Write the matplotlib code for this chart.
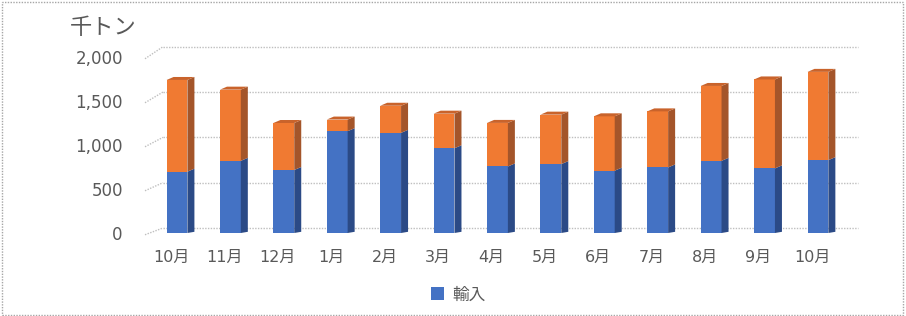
import numpy as np
import matplotlib.pyplot as plt
from matplotlib.patches import Polygon, Rectangle
from matplotlib.transforms import ScaledTranslation

plt.rcParams['font.family'] = ['DejaVu Sans', 'Noto Sans CJK JP']

# data (千トン)
months = ['10月', '11月', '12月', '1月', '2月', '3月', '4月', '5月', '6月', '7月', '8月', '9月', '10月']
imports = [697, 820, 716, 1157, 1138, 963, 756, 783, 708, 745, 820, 734, 828]
totals = [1739, 1629, 1250, 1289, 1446, 1356, 1251, 1345, 1326, 1382, 1671, 1745, 1831]
others = [t - b for t, b in zip(totals, imports)]
yticks = [0, 500, 1000, 1500, 2000]

W, H = 906, 316
fig = plt.figure(figsize=(W / 100, H / 100), dpi=100)
ax = fig.add_axes([145 / W, 1 - 233 / H, (858 - 145) / W, 176 / H])

x = np.arange(len(months))
x0, x1 = -0.599, 12.75
ax.set_xlim(x0, x1)
ax.set_ylim(0, 2000)
for s in ax.spines.values():
    s.set_visible(False)

grid_c = '#BFBFBF'
# back wall gridlines + diagonal connectors
xb = x0 + 18 / 53.4
for v in yticks:
    yb = 57 + 1.03 * v
    ax.plot([xb, x1], [yb, yb], color=grid_c, lw=1, ls=(0, (1, 1)), zorder=1, clip_on=False)
    ax.plot([x0, xb], [v - 20, yb], color=grid_c, lw=1, ls=(0, (1, 1)), zorder=1, clip_on=False)

w = 0.39
dx = 7 / 53.4
dy = 34
blue, blue_side = '#4472C4', '#2B4A86'
orange, orange_side, orange_top = '#F07A32', '#A4552A', '#C9632B'

ax.bar(x, imports, width=w, color=blue, zorder=3, label='輸入')
ax.bar(x, others, width=w, bottom=imports, color=orange, zorder=3)

# fake 3d: side and top faces
for i in x:
    r = i + w / 2
    b, t = imports[i], totals[i]
    ax.add_patch(Polygon([(r, 0), (r + dx, dy * 0.4), (r + dx, b + dy), (r, b)],
                         closed=True, color=blue_side, zorder=3, lw=0))
    ax.add_patch(Polygon([(r, b), (r + dx, b + dy), (r + dx, t + dy), (r, t)],
                         closed=True, color=orange_side, zorder=3, lw=0))
    ax.add_patch(Polygon([(i - w / 2, t), (r, t), (r + dx, t + dy), (i - w / 2 + dx, t + dy)],
                         closed=True, color=orange_top, zorder=3, lw=0))

ax.set_yticks(yticks)
ax.set_yticklabels([f'{v:,}' for v in yticks], fontsize=12, color='#595959')
ax.set_xticks(x)
ax.set_xticklabels(months, fontsize=11.5, color='#595959')
ax.tick_params(axis='y', length=0, pad=16)
ax.tick_params(axis='x', length=0, pad=12)
shift = ScaledTranslation(-6 / 100, 0, fig.dpi_scale_trans)
for lab in ax.get_xticklabels():
    lab.set_transform(lab.get_transform() + shift)

fig.text(70 / W, 1 - 27 / H, '千トン', fontsize=16, color='#595959', va='center', ha='left',
         family='Noto Sans CJK JP')

fig.legend(loc='center', bbox_to_anchor=(458 / W, 1 - 295 / H), frameon=False,
           labelcolor='#595959', handlelength=0.8, handleheight=0.8,
           handletextpad=0.5, prop={'family': 'Noto Sans CJK JP', 'size': 12})

fig.add_artist(Rectangle((0.002, 0.004), 0.995, 0.99, transform=fig.transFigure,
                         fill=False, ec='#A6A6A6', lw=1, ls=(0, (1, 1))))

fig.savefig('out.png', dpi=100)
